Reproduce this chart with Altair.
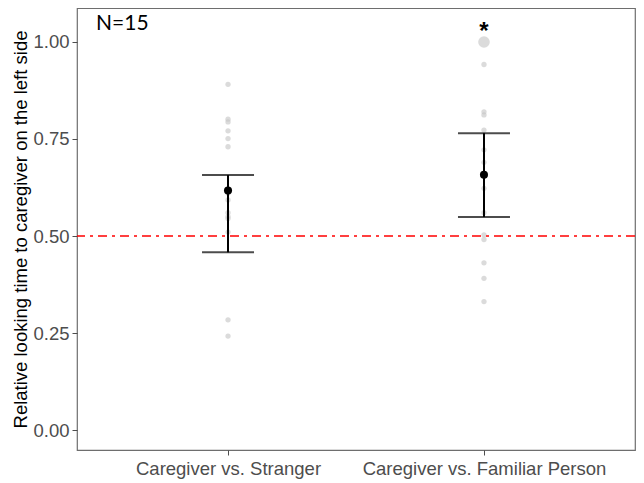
import altair as alt
import pandas as pd

categories = ["Caregiver vs. Stranger", "Caregiver vs. Familiar Person"]
stranger_vals = [0.891, 0.801, 0.794, 0.771, 0.751, 0.730, 0.62, 0.61, 0.593,
                 0.56, 0.550, 0.545, 0.51, 0.284, 0.242]
familiar_vals = [1.0, 1.0, 0.942, 0.820, 0.812, 0.773, 0.722, 0.69, 0.623,
                 0.56, 0.503, 0.491, 0.431, 0.391, 0.331]
means = [0.617, 0.658]
ci_low = [0.458, 0.549]
ci_high = [0.657, 0.765]
chance = 0.5
sig_marks = ["", "*"]
n_label = "N=15"

pts = pd.DataFrame({
    "condition": [categories[0]] * len(stranger_vals) + [categories[1]] * len(familiar_vals),
    "value": stranger_vals + familiar_vals,
})
summ = pd.DataFrame({"condition": categories, "mean": means, "lo": ci_low,
                     "hi": ci_high, "sig": sig_marks})

xenc = alt.X("condition:N", sort=categories, title=None,
             scale=alt.Scale(type="point", padding=0.59),
             axis=alt.Axis(labelAngle=0, labelFontSize=18.5, labelColor="#4d4d4d",
                           labelFont="Liberation Sans", tickColor="#4d4d4d", labelLimit=0,
                           tickSize=5, labelPadding=4, domain=False))
yscale = alt.Scale(domain=[-0.0515, 1.0876], nice=False, zero=False)
yenc_axis = alt.Axis(values=[0, 0.25, 0.5, 0.75, 1.0], format=".2f", grid=False,
                     labelFontSize=18.5, labelColor="#4d4d4d", labelFont="Liberation Sans",
                     tickColor="#4d4d4d", tickSize=5, labelPadding=3, domain=False,
                     title="Relative looking time to caregiver on the left side",
                     titleFontSize=18.5, titleFont="Liberation Sans", titleColor="black",
                     titleFontWeight="normal", titlePadding=2)

points = alt.Chart(pts).transform_aggregate(
    n="count()", groupby=["condition", "value"]
).mark_circle(color="#c8c8c8", opacity=0.65).encode(
    x=xenc,
    y=alt.Y("value:Q", scale=yscale, axis=yenc_axis),
    size=alt.Size("n:Q", scale=alt.Scale(domain=[1, 2], range=[28, 135]), legend=None),
)

chance_line = alt.Chart(pd.DataFrame({"y": [chance]})).mark_rule(
    color="#ff0000", strokeWidth=1.5, strokeDash=[9, 5, 3, 5]
).encode(y=alt.Y("y:Q", scale=yscale))

base = alt.Chart(summ)
err_v = base.mark_rule(color="black", strokeWidth=2).encode(
    x=alt.X("condition:N", sort=categories), y=alt.Y("lo:Q", scale=yscale), y2="hi:Q")
cap_lo = base.mark_tick(color="black", orient="horizontal", size=52, thickness=2).encode(
    x=alt.X("condition:N", sort=categories), y=alt.Y("lo:Q", scale=yscale))
cap_hi = base.mark_tick(color="black", orient="horizontal", size=52, thickness=2).encode(
    x=alt.X("condition:N", sort=categories), y=alt.Y("hi:Q", scale=yscale))
mean_pt = base.mark_circle(color="black", size=65, opacity=1).encode(
    x=alt.X("condition:N", sort=categories), y=alt.Y("mean:Q", scale=yscale))
star = base.transform_calculate(sy="1.027").mark_text(
    fontSize=24, fontWeight="bold", font="Liberation Sans", baseline="middle", color="black"
).encode(x=alt.X("condition:N", sort=categories), y=alt.Y("sy:Q", scale=yscale),
         text="sig:N")

ntext = alt.Chart(pd.DataFrame({"t": [n_label]})).mark_text(
    font="Lato", fontSize=21, align="left", baseline="middle", color="black"
).encode(x=alt.value(19), y=alt.value(16), text="t:N")

chart = alt.layer(points, chance_line, err_v, cap_lo, cap_hi, mean_pt, star, ntext).properties(
    width=558, height=442,
    padding={"left": 69, "top": 0, "right": 1, "bottom": 33},
    autosize=alt.AutoSizeParams(type="none"),
).configure_view(stroke="#6e6e6e", strokeWidth=1.2)

chart.save("out.html", embed_options={"renderer": "svg", "actions": False})
